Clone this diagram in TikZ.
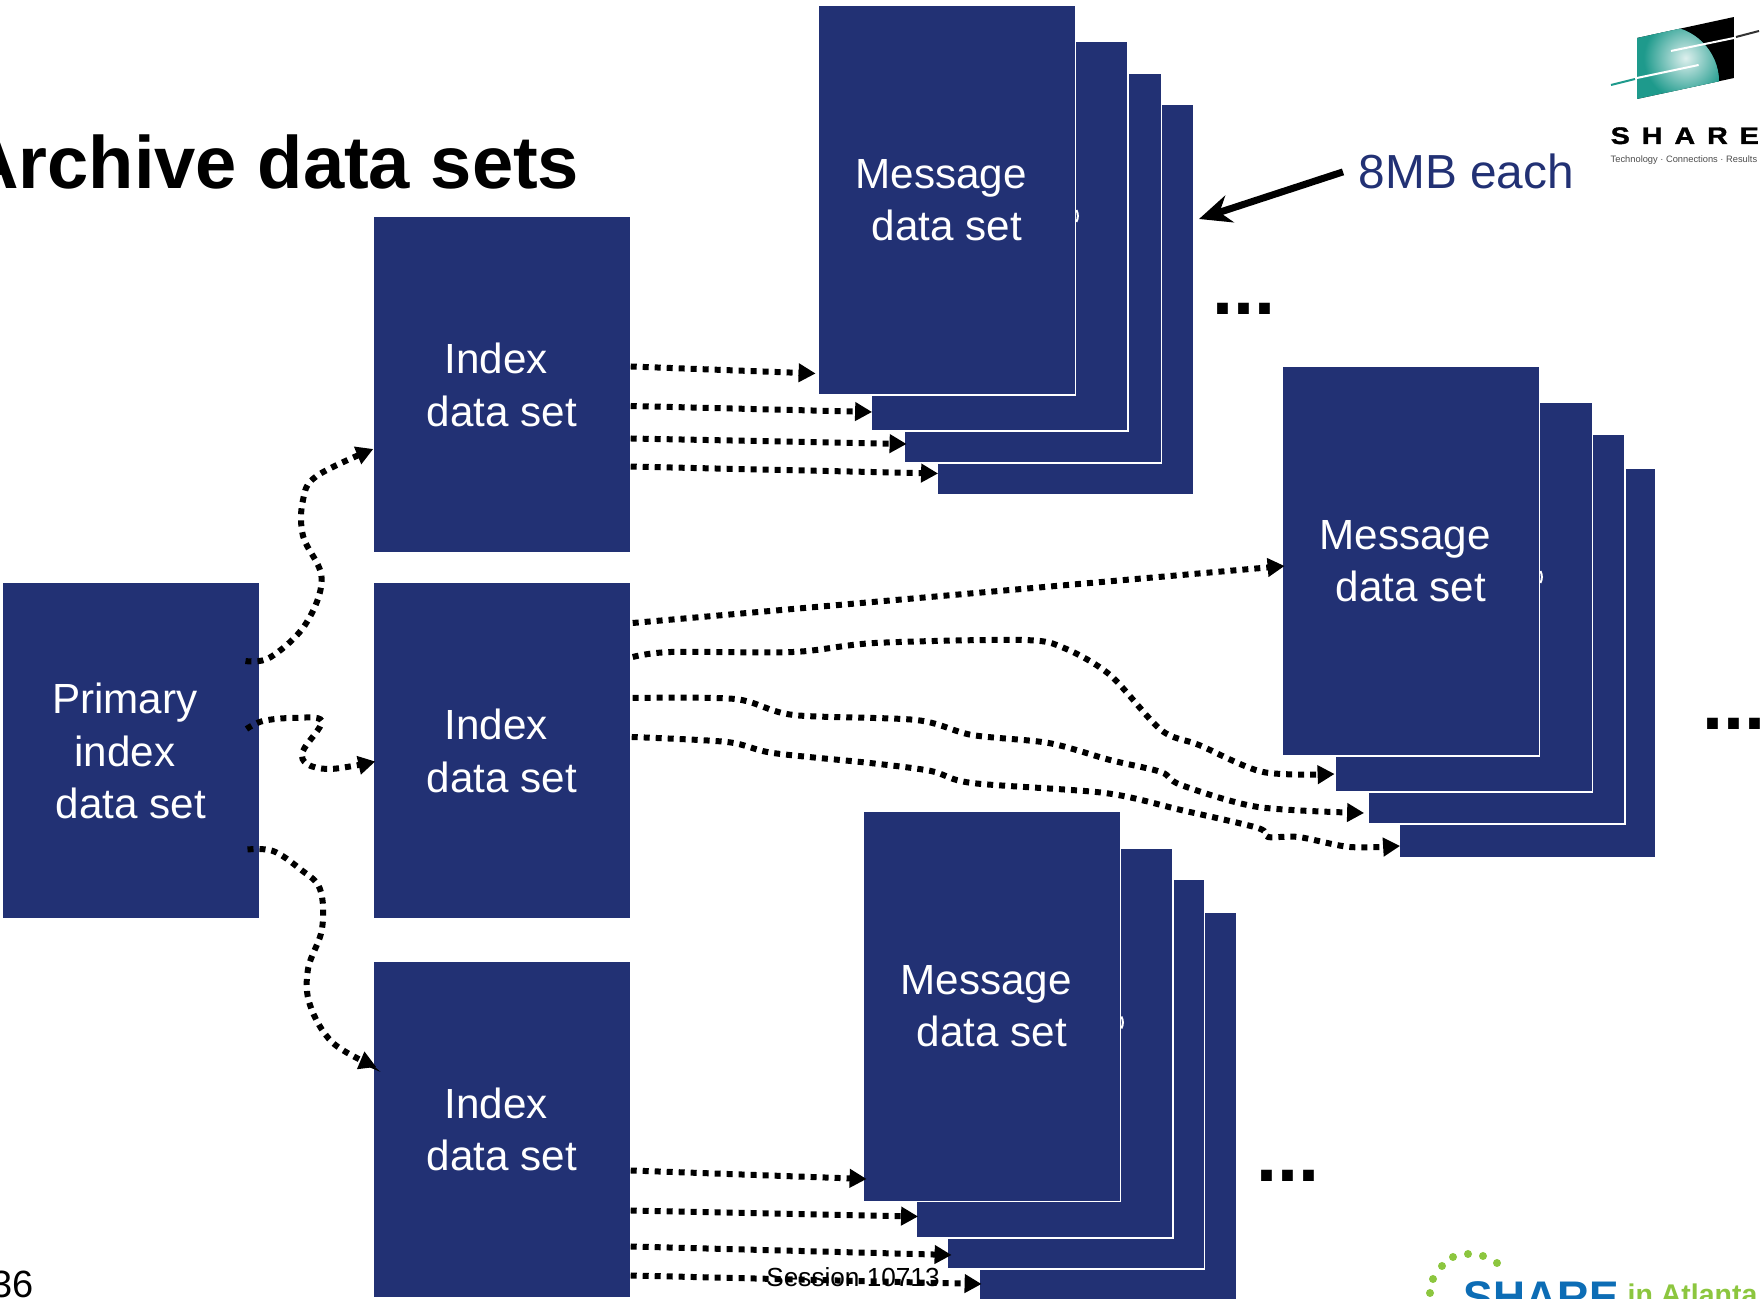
\documentclass[tikz,border=0pt]{standalone}
\usepackage{fontspec}
\usepackage{tikz}
\usetikzlibrary{arrows.meta}
\setmainfont{Liberation Sans}
\newfontfamily\sharefont[FakeStretch=1.2,LetterSpace=50,FakeBold=1.5]{Liberation Sans}
\definecolor{boxblue}{HTML}{223174}
\definecolor{logoteal}{HTML}{1E9A8C}
\definecolor{logogreen}{HTML}{8CC63F}
\definecolor{logoblue}{HTML}{0D6DB5}
\newcommand{\linegap}{\rule{0.278em}{0pt}}
\tikzset{
    databox/.style={fill=boxblue, text=white, inner sep=0pt, minimum width=2.56cm, minimum height=3.35cm,
        align=center, font=\fontsize{12}{14.9}\selectfont},
    msgbox/.style={databox, draw=white, line width=0.018cm, minimum width=2.57cm, minimum height=3.90cm},
    dotarrow/.style={-{Triangle[length=0.17cm,width=0.18cm]}, line width=0.06cm, dash pattern=on 0.06cm off 0.06cm},
    moredots/.style={anchor=base west, inner sep=0pt, font=\fontsize{21.5}{22}\bfseries\selectfont},
    peekmark/.style={white, line width=0.02cm}
}

\begin{document}
\begin{tikzpicture}
        \useasboundingbox (0,0) rectangle (17.63,12.99);
        \node [anchor=base east, inner sep=0pt, font=\fontsize{21.1}{21}\bfseries\selectfont] (title) at (5.80,11.10) {Archive data sets};

        % data sets on the left
        \node [databox] (prim) at (1.308,5.48) {Primary\linegap\\index\linegap\\data set};
        \node [databox] (idxa) at (5.02,9.14) {Index\linegap\\data set};
        \node [databox] (idxb) at (5.02,5.48) {Index\linegap\\data set};
        \node [databox] (idxc) at (5.02,1.695) {Index\linegap\\data set};

        % message stacks, back to front
        \node [msgbox] (msga4) at (10.655,9.995) {};
        \node [msgbox] (msga3) at (10.33,10.31) {};
        \node [msgbox] (msga2) at (9.995,10.63) {};
        \node [msgbox] (msga1) at (9.47,10.99) {Message\linegap\\data set};
        \draw [peekmark] ([yshift=-0.10cm]msga1.east) to [bend left=25] ([yshift=-0.22cm]msga1.east);

        \node [msgbox] (msgb4) at (15.275,6.36) {};
        \node [msgbox] (msgb3) at (14.965,6.70) {};
        \node [msgbox] (msgb2) at (14.64,7.02) {};
        \node [msgbox] (msgb1) at (14.11,7.38) {Message\linegap\\data set};
        \draw [peekmark] ([yshift=-0.10cm]msgb1.east) to [bend left=25] ([yshift=-0.22cm]msgb1.east);

        \node [msgbox] (msgc4) at (11.08,1.915) {};
        \node [msgbox] (msgc3) at (10.76,2.25) {};
        \node [msgbox] (msgc2) at (10.445,2.56) {};
        \node [msgbox] (msgc1) at (9.92,2.925) {Message\linegap\\data set};
        \draw [peekmark] ([yshift=-0.10cm]msgc1.east) to [bend left=25] ([yshift=-0.22cm]msgc1.east);

        \node [moredots] (dotsa) at (12.115,9.84) {...};
        \node [moredots] (dotsb) at (17.02,5.69) {...};
        \node [moredots] (dotsc) at (12.555,1.17) {...};

        % primary index to index data sets
        \draw [dotarrow] plot [smooth, tension=0.6] coordinates {([xshift=-0.14cm,yshift=0.90cm]prim.east) (2.70,6.415) (3.05,6.74) (3.217,7.205) (3.03,7.63) (3.03,7.99) (3.167,8.23) ([yshift=-0.64cm]idxa.west)};
        \draw [dotarrow] plot [smooth, tension=0.6] coordinates {([xshift=-0.13cm,yshift=0.22cm]prim.east) (2.63,5.78) (2.93,5.81) (3.217,5.78) (3.03,5.48) (3.07,5.35) (3.27,5.30) (3.53,5.33) ([xshift=0.02cm,yshift=-0.105cm]idxb.west)};
        \draw [dotarrow] plot [smooth, tension=0.6] coordinates {([xshift=-0.12cm,yshift=-0.985cm]prim.east) (2.73,4.48) (3.00,4.30) (3.20,4.10) (3.22,3.70) (3.08,3.30) (3.10,2.94) (3.33,2.56) ([xshift=0.03cm,yshift=0.625cm]idxc.west)};

        % first index to first stack
        \draw [dotarrow] ([yshift=0.185cm]idxa.east) -- ([xshift=-0.02cm,yshift=-1.735cm]msga1.west);
        \draw [dotarrow] ([yshift=-0.21cm]idxa.east) -- ([xshift=0.02cm,yshift=-1.76cm]msga2.west);
        \draw [dotarrow] ([yshift=-0.535cm]idxa.east) -- ([xshift=0.03cm,yshift=-1.76cm]msga3.west);
        \draw [dotarrow] ([yshift=-0.816cm]idxa.east) -- ([xshift=0.02cm,yshift=-1.74cm]msga4.west);

        % second index to second stack
        \draw [dotarrow] ([xshift=0.02cm,yshift=1.28cm]idxb.east) -- ([xshift=0.03cm,yshift=-0.05cm]msgb1.west);
        \draw [dotarrow] plot [smooth, tension=0.5] coordinates {([xshift=0.02cm,yshift=0.94cm]idxb.east) (6.71,6.47) (7.935,6.47) (8.75,6.56) (10.23,6.59) (10.64,6.51) (11.10,6.24) (11.61,5.69) (11.99,5.54) (12.63,5.27) ([yshift=-1.77cm]msgb2.west)};
        \draw [dotarrow] plot [smooth, tension=0.5] coordinates {([xshift=0.02cm,yshift=0.53cm]idxb.east) (7.35,6.00) (7.935,5.84) (9.16,5.79) (9.72,5.64) (10.486,5.56) (11.10,5.39) (11.61,5.27) (11.81,5.14) (12.58,4.92) ([xshift=-0.03cm,yshift=-1.84cm]msgb3.west)};
        \draw [dotarrow] plot [smooth, tension=0.5] coordinates {([xshift=0.01cm,yshift=0.14cm]idxb.east) (7.27,5.57) (7.73,5.46) (8.70,5.36) (9.31,5.28) (9.72,5.16) (11.05,5.06) (11.81,4.89) (12.58,4.71) (12.68,4.62) (12.986,4.62) (13.496,4.52) ([xshift=0.02cm,yshift=-1.83cm]msgb4.west)};

        % third index to third stack
        \draw [dotarrow] ([yshift=-0.41cm]idxc.east) -- ([xshift=0.04cm,yshift=-1.725cm]msgc1.west);
        \draw [dotarrow] ([yshift=-0.81cm]idxc.east) -- ([xshift=0.03cm,yshift=-1.735cm]msgc2.west);
        \draw [dotarrow] ([yshift=-1.17cm]idxc.east) -- ([xshift=0.05cm,yshift=-1.81cm]msgc3.west);
        \draw [dotarrow] ([yshift=-1.46cm]idxc.east) -- ([xshift=0.03cm,yshift=-1.765cm]msgc4.west);

        % size note
        \node [anchor=base west, inner xsep=0.15cm, inner ysep=0pt, text=boxblue, font=\fontsize{13.6}{13.6}\selectfont] (mbnote) at (13.43,11.10) {8MB each};
        \coordinate (mbtip) at (11.99,10.80);
        \draw [-{Stealth[length=0.32cm,width=0.28cm]}, line width=0.07cm] (mbnote.west) -- (mbtip);

        % footer
        \node [anchor=base, inner sep=0pt, font=\fontsize{7.45}{8}\selectfont] (session) at (8.53,0.12) {Session 10713};
        \node [anchor=base east, inner sep=0pt, font=\fontsize{10.8}{11}\selectfont] (pagenum) at (0.345,0.01) {36};

        % upper logo
        \begin{scope}
            \clip (16.37,12.61) -- (17.34,12.82) -- (17.34,12.21) -- (16.37,12.00) -- cycle;
            \fill [black] (16.37,12.00) rectangle (17.34,12.82);
            \fill [logoteal] (16.63,12.17) circle (0.56);
            \clip (16.63,12.17) circle (0.56);
            \shade [inner color=white!85!logoteal, outer color=logoteal] (16.856,12.41) circle (0.42);
        \end{scope}
        \draw [logoteal, line width=0.02cm] (16.11,12.14) -- (16.35,12.20);
        \draw [white, line width=0.02cm] (16.37,12.21) -- (16.986,12.34);
        \draw [white, line width=0.02cm] (16.71,12.48) -- (17.34,12.61);
        \draw [black!80, line width=0.02cm] (17.36,12.62) -- (17.59,12.68);
        \node [anchor=base west, inner sep=0pt, font=\fontsize{6.8}{7}\sharefont\bfseries] (sharetop) at (16.10,11.55) {SHARE};
        \node [anchor=base west, inner sep=0pt, text=black!70, font=\fontsize{2.65}{3}\selectfont] (tagline) at (16.10,11.36) {Technology · Connections · Results};

        % lower logo
        \fill [logogreen] (14.30,0.06) circle (0.04);
        \fill [logogreen] (14.33,0.20) circle (0.04);
        \fill [logogreen] (14.42,0.33) circle (0.04);
        \fill [logogreen] (14.53,0.42) circle (0.04);
        \fill [logogreen] (14.68,0.45) circle (0.04);
        \fill [logogreen] (14.83,0.43) circle (0.04);
        \fill [logogreen] (14.97,0.36) circle (0.04);
        \node [anchor=base west, inner sep=0pt, text=logoblue, font=\fontsize{12.6}{13}\bfseries\selectfont] (sharelow) at (14.63,-0.14) {SHARE};
        \node [anchor=base west, inner sep=0pt, text=logogreen, font=\fontsize{8.1}{9}\bfseries\selectfont] (atlanta) at (16.27,-0.055) {in Atlanta};
    \end{tikzpicture}
\end{document}
